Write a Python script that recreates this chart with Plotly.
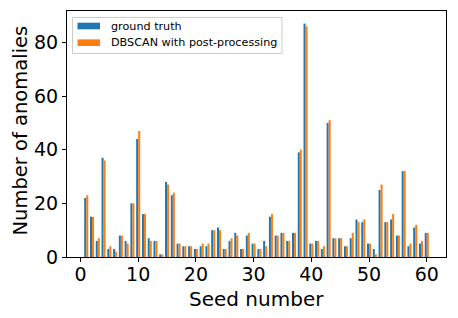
import plotly.graph_objects as go

seeds = list(range(1, 61))
ground_truth = [22, 15, 6, 37, 3, 3, 8, 6, 20, 44,
                16, 7, 6, 1, 28, 23, 5, 4, 4, 3,
                4, 4, 10, 11, 3, 6, 9, 3, 8, 5,
                3, 6, 15, 8, 9, 6, 9, 39, 87, 5,
                6, 3, 50, 7, 7, 4, 7, 14, 13, 5,
                3, 25, 13, 14, 8, 32, 4, 11, 5, 9]
dbscan = [23, 15, 7, 36, 4, 2, 8, 5, 20, 47,
          16, 6, 6, 1, 27, 24, 5, 4, 4, 3,
          5, 5, 10, 10, 3, 7, 8, 3, 9, 5,
          3, 4, 16, 8, 9, 6, 9, 40, 86, 5,
          6, 4, 51, 7, 7, 4, 9, 13, 14, 5,
          1, 27, 13, 16, 8, 32, 5, 12, 6, 9]
series_names = ["ground truth", "DBSCAN with post-processing"]
series_colors = ["#1f77b4", "#ff7f0e"]

W, H = 458, 318
L, R, T, B = 67, 12, 11, 61
PW, PH = W - L - R, H - T - B


def px(x):
    return (x - L) / PW


def py(y):
    return (H - B - y) / PH


fig = go.Figure()
for name, vals, col in zip(series_names, [ground_truth, dbscan], series_colors):
    fig.add_trace(go.Bar(x=seeds, y=vals, name=name,
                         marker=dict(color=col, line=dict(width=0))))

shapes = []
annotations = []
# legend box
shapes.append(dict(type="rect", xref="paper", yref="paper",
                   x0=px(72.5), x1=px(282), y0=py(17.5), y1=py(53.5),
                   line=dict(color="#cccccc", width=1), fillcolor="rgba(255,255,255,0.8)"))
for i, (name, col) in enumerate(zip(series_names, series_colors)):
    yc = 26 + i * 16.7
    shapes.append(dict(type="rect", xref="paper", yref="paper",
                       x0=px(77.5), x1=px(100), y0=py(yc - 3.3), y1=py(yc + 3.3),
                       line=dict(width=0), fillcolor=col))
    annotations.append(dict(text=name, xref="paper", yref="paper", x=px(109), y=py(yc),
                            xanchor="left", yanchor="middle", showarrow=False,
                            font=dict(size=11.2, color="black")))
# axis titles
annotations.append(dict(text="Seed number", xref="paper", yref="paper",
                        x=px(256.5), y=py(299), xanchor="center", yanchor="middle",
                        showarrow=False, font=dict(size=20, color="black")))
annotations.append(dict(text="Number of anomalies", xref="paper", yref="paper",
                        x=px(19.5), y=py(131), xanchor="center", yanchor="middle", textangle=-90,
                        showarrow=False, font=dict(size=19.5, color="black")))

fig.update_layout(
    width=W, height=H,
    margin=dict(l=L, r=R, t=T, b=B, autoexpand=False),
    paper_bgcolor="white", plot_bgcolor="white",
    font=dict(family="DejaVu Sans", color="black"),
    barmode="group", bargap=0.3, bargroupgap=0,
    showlegend=False,
    shapes=shapes, annotations=annotations,
)
fig.update_xaxes(range=[-2.335, 63.335], tickmode="array", tickvals=[0, 10, 20, 30, 40, 50, 60],
                 ticks="outside", ticklen=4, tickcolor="black", showline=True, linecolor="black",
                 linewidth=1, mirror=True, showgrid=False, zeroline=False, automargin=False,
                 tickfont=dict(size=19), ticklabelstandoff=-4)
fig.update_yaxes(range=[0, 91.7], tickmode="array", tickvals=[0, 20, 40, 60, 80],
                 ticks="outside", ticklen=4, tickcolor="black", showline=True, linecolor="black",
                 linewidth=1, mirror=True, showgrid=False, zeroline=False, automargin=False,
                 tickfont=dict(size=19))

fig.write_html("out.html", config={"displayModeBar": False, "staticPlot": True},
               post_script="document.body.style.margin='0';document.body.style.overflow='hidden';")
